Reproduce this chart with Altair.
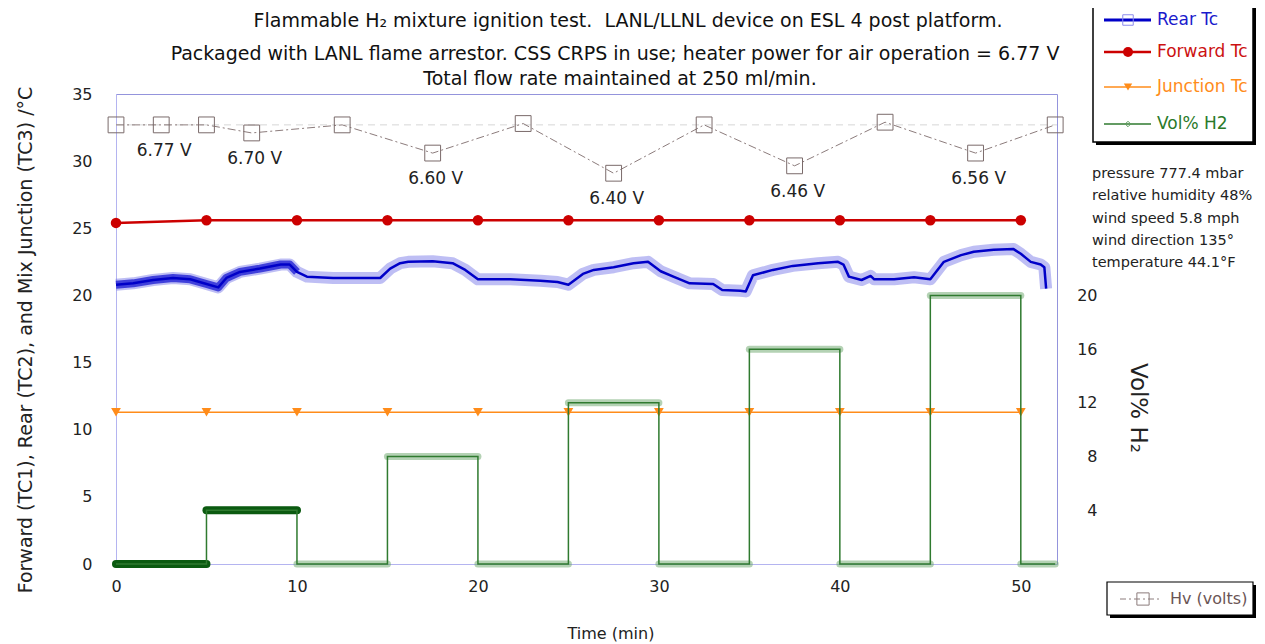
import altair as alt
import pandas as pd

# ---------------- data ----------------
REAR_T = [0, 0.95, 2.05, 3.15, 4.1, 5.0, 5.65, 6.1, 6.85, 7.95, 9.1, 9.6, 10.0, 10.55,
          12.0, 14.6, 15.15, 15.7, 16.15, 17.5, 18.6, 19.3, 20.0, 21.8, 23.45, 24.4,
          25.0, 25.8, 26.4, 27.5, 28.6, 29.4, 30.1, 30.8, 31.7, 33.0, 33.5, 34.5, 34.8,
          35.2, 36.3, 37.4, 38.8, 39.9, 40.2, 40.5, 41.2, 41.7, 41.9, 43.0, 44.1, 45.0,
          45.75, 46.7, 47.4, 48.5, 49.6, 50.0, 50.55, 51.1, 51.3, 51.4]
REAR_V = [20.8, 20.9, 21.15, 21.3, 21.2, 20.85, 20.6, 21.3, 21.75, 22.0, 22.3, 22.3, 21.75, 21.4,
          21.3, 21.3, 22.0, 22.4, 22.5, 22.55, 22.4, 21.9, 21.2, 21.2, 21.1, 21.0,
          20.8, 21.6, 21.9, 22.1, 22.4, 22.5, 21.8, 21.4, 20.9, 20.85, 20.4, 20.35, 20.3,
          21.5, 21.9, 22.2, 22.4, 22.5, 22.3, 21.4, 21.15, 21.45, 21.2, 21.2, 21.35, 21.2,
          22.5, 23.0, 23.25, 23.4, 23.45, 23.1, 22.5, 22.3, 22.1, 20.5]

FWD_T = [0, 5, 10, 15, 20, 25, 30, 35, 40, 45, 50]
FWD_V = [25.4, 25.6, 25.6, 25.6, 25.6, 25.6, 25.6, 25.6, 25.6, 25.6, 25.6]

JUNC_T = [0, 5, 10, 15, 20, 25, 30, 35, 40, 45, 50]
JUNC_V = [11.3, 11.3, 11.3, 11.3, 11.3, 11.3, 11.3, 11.3, 11.3, 11.3, 11.3]

H2_START = [0, 5, 10, 15, 20, 25, 30, 35, 40, 45, 50]
H2_END = [5, 10, 15, 20, 25, 30, 35, 40, 45, 50, 51.9]
H2_VOL = [0, 4, 0, 8, 0, 12, 0, 16, 0, 20, 0]

HV_T = [0, 2.5, 5, 7.5, 12.5, 17.5, 22.5, 27.5, 32.5, 37.5, 42.5, 47.5, 51.9]
HV_V = [32.7, 32.7, 32.7, 32.1, 32.7, 30.6, 32.8, 29.1, 32.7, 29.65, 32.9, 30.6, 32.7]
HV_LABEL = ["", "6.77 V", "", "6.70 V", "", "6.60 V", "", "6.40 V", "", "6.46 V", "", "6.56 V", ""]
HV_REF = [32.7]

X_TICKS = [0, 10, 20, 30, 40, 50]
Y_TICKS = [0, 5, 10, 15, 20, 25, 30, 35]
RIGHT_TICKS = [4, 8, 12, 16, 20]

TITLE_LINES = [
    "Flammable H\u2082 mixture ignition test.\u00a0 LANL/LLNL device on ESL 4 post platform.",
    "Packaged with LANL flame arrestor. CSS CRPS in use; heater power for air operation = 6.77 V",
    "Total flow rate maintained at 250 ml/min.",
]
WEATHER = ["pressure 777.4 mbar", "relative humidity 48%", "wind speed 5.8 mph",
           "wind direction 135\u00b0", "temperature 44.1\u00b0F"]
LEGEND_NAMES = ["Rear Tc", "Forward Tc", "Junction Tc", "Vol% H2"]

# ---------------- styling ----------------
F = "DejaVu Sans"
W, H = 941, 470
TXT = "#222222"
BLUE, RED, ORANGE, GREEN, HVC = "#0000c8", "#cc0000", "#ff8c1a", "#2f7a2f", "#8c7c7c"

XS = alt.Scale(domain=[0, 52], nice=False, zero=False)
YS = alt.Scale(domain=[0, 35], nice=False, zero=False)
X_AXIS = alt.Axis(values=X_TICKS, labelFontSize=16, labelFont=F, labelColor=TXT,
                  domainColor="#b4b4f0", ticks=False, labelPadding=14, labelFlush=False,
                  grid=False, title=None)
Y_AXIS = alt.Axis(values=Y_TICKS, labelFontSize=16, labelFont=F, labelColor=TXT,
                  domainColor="#b4b4f0", ticks=False, labelPadding=24, labelFlush=False,
                  grid=False, title=None)
R_AXIS = alt.Axis(values=RIGHT_TICKS, orient="right", labelFontSize=16, labelFont=F,
                  labelColor=TXT, domain=False, ticks=False, labelPadding=40,
                  labelAlign="right", labelFlush=False, grid=False, title=None)


def X(field):
    return alt.X(field, scale=XS, axis=X_AXIS)


def Y(field):
    return alt.Y(field, scale=YS, axis=Y_AXIS)


def YR(field):
    return alt.Y(field, scale=YS, axis=R_AXIS)


ONE = pd.DataFrame({"k": [0]})


def txt(s, x, y, size=16, color=TXT, align="left", angle=0):
    return alt.Chart(ONE).mark_text(text=s, fontSize=size, font=F, color=color, align=align,
                                    baseline="middle", angle=angle).encode(
        x=alt.value(x), y=alt.value(y))


def rect(x1, x2, y1, y2, fill, stroke=None, sw=0):
    kw = dict(fill=fill)
    if stroke is not None:
        kw.update(stroke=stroke, strokeWidth=sw)
    return alt.Chart(ONE).mark_rect(**kw).encode(
        x=alt.value(x1), x2=alt.value(x2), y=alt.value(y1), y2=alt.value(y2))


def seg(x1, x2, y, color, sw, dash=None, opacity=1.0):
    kw = dict(color=color, strokeWidth=sw, opacity=opacity)
    if dash is not None:
        kw["strokeDash"] = dash
    return alt.Chart(ONE).mark_rule(**kw).encode(
        x=alt.value(x1), x2=alt.value(x2), y=alt.value(y))


def marker(x, y, shape, color, size, filled, sw=1.0):
    return alt.Chart(ONE).mark_point(shape=shape, color=color, size=size, filled=filled,
                                     strokeWidth=sw, opacity=1).encode(
        x=alt.value(x), y=alt.value(y))


# ---------------- data frames ----------------
rear_df = pd.DataFrame({"t": REAR_T, "v": REAR_V, "i": list(range(len(REAR_T)))})
fwd_df = pd.DataFrame({"t": FWD_T, "v": FWD_V})
junc_df = pd.DataFrame({"t": JUNC_T, "v": JUNC_V})
hv_df = pd.DataFrame({"t": HV_T, "v": HV_V, "label": HV_LABEL, "i": list(range(len(HV_T)))})
h2_seg = pd.DataFrame({"s": H2_START, "e": H2_END, "v": H2_VOL})
pts = []
for k, (s, e, v) in enumerate(zip(H2_START, H2_END, H2_VOL)):
    pts.append({"t": s, "v": v, "i": 2 * k})
    pts.append({"t": e, "v": v, "i": 2 * k + 1})
h2_pts = pd.DataFrame(pts)

# ---------------- series layers (left axis) ----------------
ref_line = alt.Chart(pd.DataFrame({"v": HV_REF})).mark_rule(
    color="#d6d6d6", strokeWidth=1, strokeDash=[7, 5]).encode(
    y=Y("v:Q"), x=alt.value(0), x2=alt.value(W))

hv_base = alt.Chart(hv_df).encode(x=X("t:Q"), y=Y("v:Q"), order="i:Q")
hv_line = hv_base.mark_line(color=HVC, strokeWidth=1, strokeDash=[8, 3, 2, 3])
hv_pts = hv_base.mark_point(shape="square", size=250, filled=False, color="#7a6a6a",
                            strokeWidth=1, opacity=1)
hv_lab = alt.Chart(hv_df).transform_filter("datum.label != ''").mark_text(
    fontSize=17, font=F, color=TXT, dy=26, dx=3, baseline="middle").encode(
    x=X("t:Q"), y=Y("v:Q"), text="label:N")

rear_base = alt.Chart(rear_df).encode(x=X("t:Q"), y=Y("v:Q"), order="i:Q")
rear_halo = rear_base.mark_line(color="#6e6ee6", strokeWidth=12, opacity=0.45,
                                strokeJoin="round")
rear_early = rear_base.transform_filter("datum.t <= 10.2").mark_line(
    color="#2a2ad6", strokeWidth=8, opacity=0.85, strokeJoin="round")
rear_line = rear_base.mark_line(color=BLUE, strokeWidth=2.5, strokeJoin="round")

fwd_base = alt.Chart(fwd_df).encode(x=X("t:Q"), y=Y("v:Q"))
fwd_line = fwd_base.mark_line(color=RED, strokeWidth=2.5)
fwd_pts = fwd_base.mark_point(shape="circle", size=110, filled=True, color=RED, opacity=1)

junc_base = alt.Chart(junc_df).encode(x=X("t:Q"), y=Y("v:Q"))
junc_line = junc_base.mark_line(color=ORANGE, strokeWidth=1.6)
junc_pts = junc_base.mark_point(shape="triangle-down", size=95, filled=True, color=ORANGE,
                                opacity=1)

# ---------------- annotations ----------------
ann = []
title_pos = [(512, -73), (499, -40), (504, -15)]
for s, (x, y) in zip(TITLE_LINES, title_pos):
    ann.append(txt(s, x, y, size=19, color="#111111", align="center"))
for k, s in enumerate(WEATHER):
    ann.append(txt(s, 976, 80 + 22.3 * k, size=14.5))
ann.append(txt("Forward (TC1), Rear (TC2), and Mix Junction (TC3) /\u00b0C", -90, 246,
               size=19, align="center", angle=270))
ann.append(txt("Time (min)", 495, 540, size=16, align="center"))
ann.append(txt("Vol% H\u2082", 1022, 314, size=23, align="center", angle=90))

# legend (top right)
ann.append(rect(980, 1140, -101, 51, "#000000"))
ann.append(rect(977, 1137, -104, 48, "#ffffff", "#000000", 1.5))
leg_y = [-74, -42, -7, 30]
leg_col = ["#1a1acc", "#cc1111", "#ff8c1a", "#2a7a2a"]
ann.append(seg(988, 1035, leg_y[0], BLUE, 3))
ann.append(marker(1012, leg_y[0], "square", "#8c8cee", 110, False, 1))
ann.append(seg(988, 1035, leg_y[1], RED, 2.5))
ann.append(marker(1012, leg_y[1], "circle", RED, 100, True))
ann.append(seg(988, 1035, leg_y[2], ORANGE, 1.6))
ann.append(marker(1012, leg_y[2], "triangle-down", ORANGE, 70, True))
ann.append(seg(988, 1035, leg_y[3], GREEN, 1.5))
ann.append(marker(1012, leg_y[3], "diamond", "#5c9a5c", 30, False, 1))
for name, y, c in zip(LEGEND_NAMES, leg_y, leg_col):
    ann.append(txt(name, 1041, y, size=17, color=c))

# legend (Hv)
ann.append(rect(994, 1140, 491, 524, "#000000"))
ann.append(rect(991, 1137, 488, 521, "#ffffff", "#000000", 1.2))
ann.append(seg(1004, 1046, 505, HVC, 1, dash=[6, 3, 2, 3]))
ann.append(marker(1027, 505, "square", "#8c7c7c", 150, False, 1))
ann.append(txt("Hv (volts)", 1054, 505, size=16, color="#6b5555"))

left = alt.layer(ref_line, hv_line, hv_pts, hv_lab, rear_halo, rear_early, rear_line,
                 fwd_line, fwd_pts, junc_line, junc_pts, *ann)

# ---------------- Vol% H2 (right axis) ----------------
h2_halo = alt.Chart(h2_seg).mark_rule(strokeWidth=7, strokeCap="round", color="#6aa56a",
                                      opacity=0.5).encode(
    x=X("s:Q"), x2="e:Q", y=YR("v:Q"))
h2_dark = alt.Chart(h2_seg).transform_filter("datum.s < 10").mark_rule(
    strokeWidth=8, strokeCap="round", color="#0b5a10", opacity=1).encode(
    x=X("s:Q"), x2="e:Q", y=YR("v:Q"))
h2_line = alt.Chart(h2_pts).mark_line(color=GREEN, strokeWidth=1.5).encode(
    x=X("t:Q"), y=YR("v:Q"), order="i:Q")

right = alt.layer(h2_halo, h2_dark, h2_line)

chart = alt.layer(left, right).resolve_scale(y="independent").properties(
    width=W, height=H,
    autosize=alt.AutoSizeParams(type="none"),
    padding={"left": 108, "top": 86, "right": 200, "bottom": 80},
    background="#ffffff",
).configure_view(stroke="#9494dc", strokeWidth=1)

chart.save("out.html", embed_options={"renderer": "svg", "actions": False})
